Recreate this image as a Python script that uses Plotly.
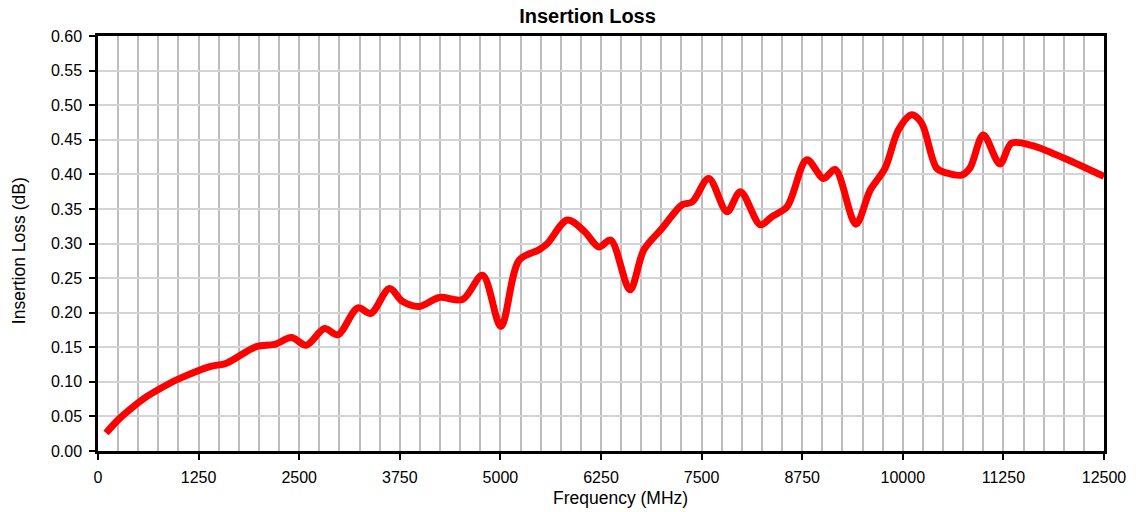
import plotly.graph_objects as go

freq_mhz = [100, 250, 438, 604, 893, 1017, 1389, 1596, 1968, 2195, 2402, 2588, 2815, 2980,
            3228, 3390, 3621, 3786, 3993, 4241, 4530, 4778, 5006, 5233, 5481, 5584, 5832,
            6040, 6225, 6370, 6610, 6783, 7010, 7258, 7382, 7589, 7816, 7982, 8230, 8375,
            8561, 8808, 9015, 9160, 9417, 9594, 9780, 9945, 10110, 10234, 10420, 10544,
            10730, 10834, 11000, 11207, 11351, 11599, 12013, 12500]
loss_db = [0.026, 0.045, 0.064, 0.0785, 0.098, 0.105, 0.122, 0.127, 0.151, 0.154, 0.164, 0.153,
           0.177, 0.168, 0.207, 0.199, 0.235, 0.216, 0.209, 0.222, 0.219, 0.254, 0.180, 0.276,
           0.291, 0.300, 0.334, 0.318, 0.295, 0.305, 0.233, 0.291, 0.322, 0.356, 0.360, 0.394,
           0.346, 0.375, 0.327, 0.339, 0.353, 0.421, 0.394, 0.407, 0.328, 0.377, 0.409, 0.464,
           0.486, 0.474, 0.409, 0.402, 0.399, 0.409, 0.457, 0.415, 0.445, 0.442, 0.423, 0.397]

x_ticks = [0, 1250, 2500, 3750, 5000, 6250, 7500, 8750, 10000, 11250, 12500]

FONT = "Liberation Sans, Arial, sans-serif"

W, H = 1138, 512
L, R, T, B = 98, 32, 36, 61
PW = W - L - R
PH = H - T - B

fig = go.Figure()
fig.add_trace(go.Scatter(
    x=freq_mhz, y=loss_db, mode="lines",
    line=dict(color="#ff0000", width=7, shape="spline", smoothing=0.9),
    showlegend=False, hoverinfo="x+y",
))

fig.update_layout(
    width=W, height=H,
    margin=dict(l=L, r=R, t=T, b=B),
    paper_bgcolor="white", plot_bgcolor="white",
    font=dict(family=FONT, color="black", size=16),
    title=dict(text="<b>Insertion Loss</b>", font=dict(size=20, family=FONT),
               x=(588.5 - L) / PW, xref="paper", xanchor="center",
               y=1 - 16 / H, yref="container", yanchor="middle"),
    annotations=[
        dict(text="Frequency (MHz)", x=(621.5 - L) / PW, xref="paper",
             y=-(498 - (T + PH)) / PH, yref="paper", xanchor="center", yanchor="middle",
             showarrow=False, font=dict(size=17.5, family=FONT)),
        dict(text="Insertion Loss (dB)", x=-(L - 19) / PW, xref="paper",
             y=((T + PH) - 251) / PH, yref="paper", xanchor="center", yanchor="middle",
             textangle=-90, showarrow=False, font=dict(size=17.5, family=FONT)),
    ],
)

fig.update_xaxes(
    range=[0, 12500], tickvals=x_ticks, ticktext=[str(v) for v in x_ticks],
    showgrid=True, gridcolor="#bdbdbd", gridwidth=1.5,
    minor=dict(dtick=250, tick0=0, showgrid=True, gridcolor="#bdbdbd", gridwidth=1.5, ticks=""),
    showline=True, linecolor="black", linewidth=2.5, mirror=True,
    ticks="outside", ticklen=6, tickwidth=2, tickcolor="black",
    tickfont=dict(size=16, family=FONT), zeroline=False, ticklabelstandoff=4,
)
fig.update_yaxes(
    range=[0, 0.6], dtick=0.05, tick0=0, tickformat=".2f",
    showgrid=True, gridcolor="#d4d4d4", gridwidth=1.5,
    showline=True, linecolor="black", linewidth=2.5, mirror=True,
    ticks="outside", ticklen=6, tickwidth=2, tickcolor="black",
    tickfont=dict(size=16, family=FONT), zeroline=False, ticklabelstandoff=4,
)

fig.write_html(
    "out.html",
    config={"responsive": False, "displayModeBar": False},
    post_script="document.body.style.margin='0';document.body.style.overflow='hidden';",
)
